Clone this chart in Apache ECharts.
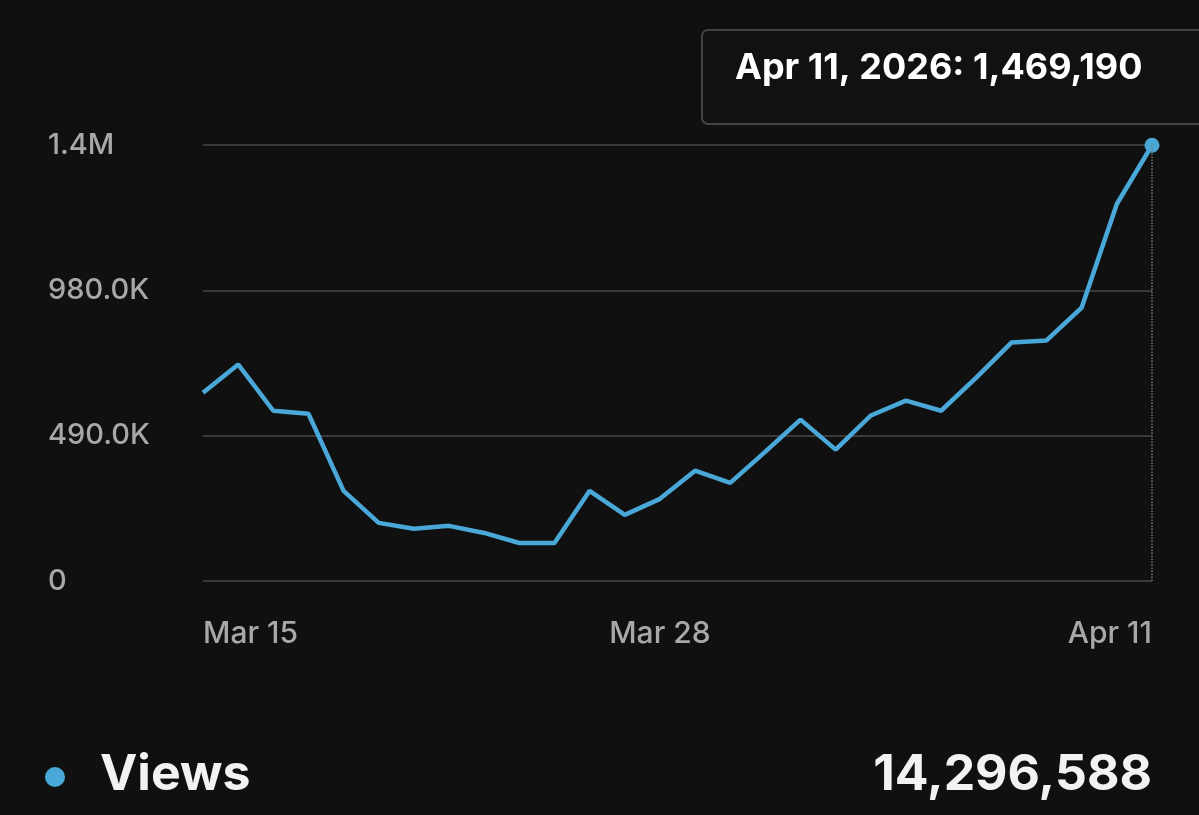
<!DOCTYPE html>
<html><head><meta charset="utf-8">
<script src="https://cdn.jsdelivr.net/npm/echarts@6/dist/echarts.min.js"></script>
<style>html,body{margin:0;padding:0;background:#101010;}#c{width:1199px;height:815px;}</style>
</head><body><div id="c"></div>
<script>
const categories = ['Mar 15','Mar 16','Mar 17','Mar 18','Mar 19','Mar 20','Mar 21','Mar 22','Mar 23','Mar 24','Mar 25','Mar 26','Mar 27','Mar 28','Mar 29','Mar 30','Mar 31','Apr 1','Apr 2','Apr 3','Apr 4','Apr 5','Apr 6','Apr 7','Apr 8','Apr 9','Apr 10','Apr 11'];
const views = [635000,730000,574000,564000,304000,196000,176000,186000,162000,128000,128000,304000,223000,277000,372000,331000,436000,544000,443000,558000,608000,574000,686000,804000,811000,922000,1271000,1469190];
const yTicks = {0:'0',490000:'490.0K',980000:'980.0K',1470000:'1.4M'};
const shownLabels = ['Mar 15','Mar 28','Apr 11'];
const tooltipText = 'Apr 11, 2026: 1,469,190';
const legendName = 'Views';
const totalText = '14,296,588';
const FONT = 'Inter, Roboto, sans-serif';
const chart = echarts.init(document.getElementById('c'));
chart.setOption({
  backgroundColor:'#101010',
  animation:false,
  grid:{left:203,right:47,top:145,bottom:234,containLabel:false},
  xAxis:{type:'category',data:categories,boundaryGap:false,
    axisLine:{show:false},axisTick:{show:false},
    axisLabel:{color:'#a8a8a8',fontSize:30,fontWeight:500,fontFamily:FONT,margin:38,interval:0,
      alignMinLabel:'left',alignMaxLabel:'right',
      formatter:v=>shownLabels.includes(v)?v:''}},
  yAxis:{type:'value',min:0,max:1470000,interval:490000,
    splitLine:{lineStyle:{color:'#3a3a3a',width:2}},
    axisLabel:{color:'#a8a8a8',fontSize:29,fontWeight:500,fontFamily:FONT,align:'left',margin:155,
      formatter:v=>yTicks[v]??''}},
  series:[{type:'line',data:views,symbol:'circle',showSymbol:true,
    itemStyle:{color:'#4aa8d8'},
    lineStyle:{color:'#4aa8d8',width:4.5},
    symbolSize:(v,p)=>p.dataIndex===views.length-1?15:0,
    markLine:{silent:true,symbol:'none',label:{show:false},
      lineStyle:{color:'#777',type:'dotted',width:1.5},
      data:[{xAxis:categories.length-1}]}}],
  graphic:[
    {type:'rect',shape:{x:702,y:30,width:520,height:94,r:6},style:{fill:'#111',stroke:'#444',lineWidth:2}},
    {type:'text',x:735,y:50,style:{text:tooltipText,fill:'#fff',font:'bold 36px '+FONT,letterSpacing:1}},
    {type:'circle',shape:{cx:55,cy:777,r:10},style:{fill:'#4aa8d8'}},
    {type:'text',x:100,y:750,style:{text:legendName,fill:'#f2f2f2',font:'bold 50px '+FONT}},
    {type:'text',x:1152,y:750,style:{text:totalText,fill:'#f2f2f2',font:'bold 50px '+FONT,align:'right',letterSpacing:1}}
  ]
});
</script></body></html>
